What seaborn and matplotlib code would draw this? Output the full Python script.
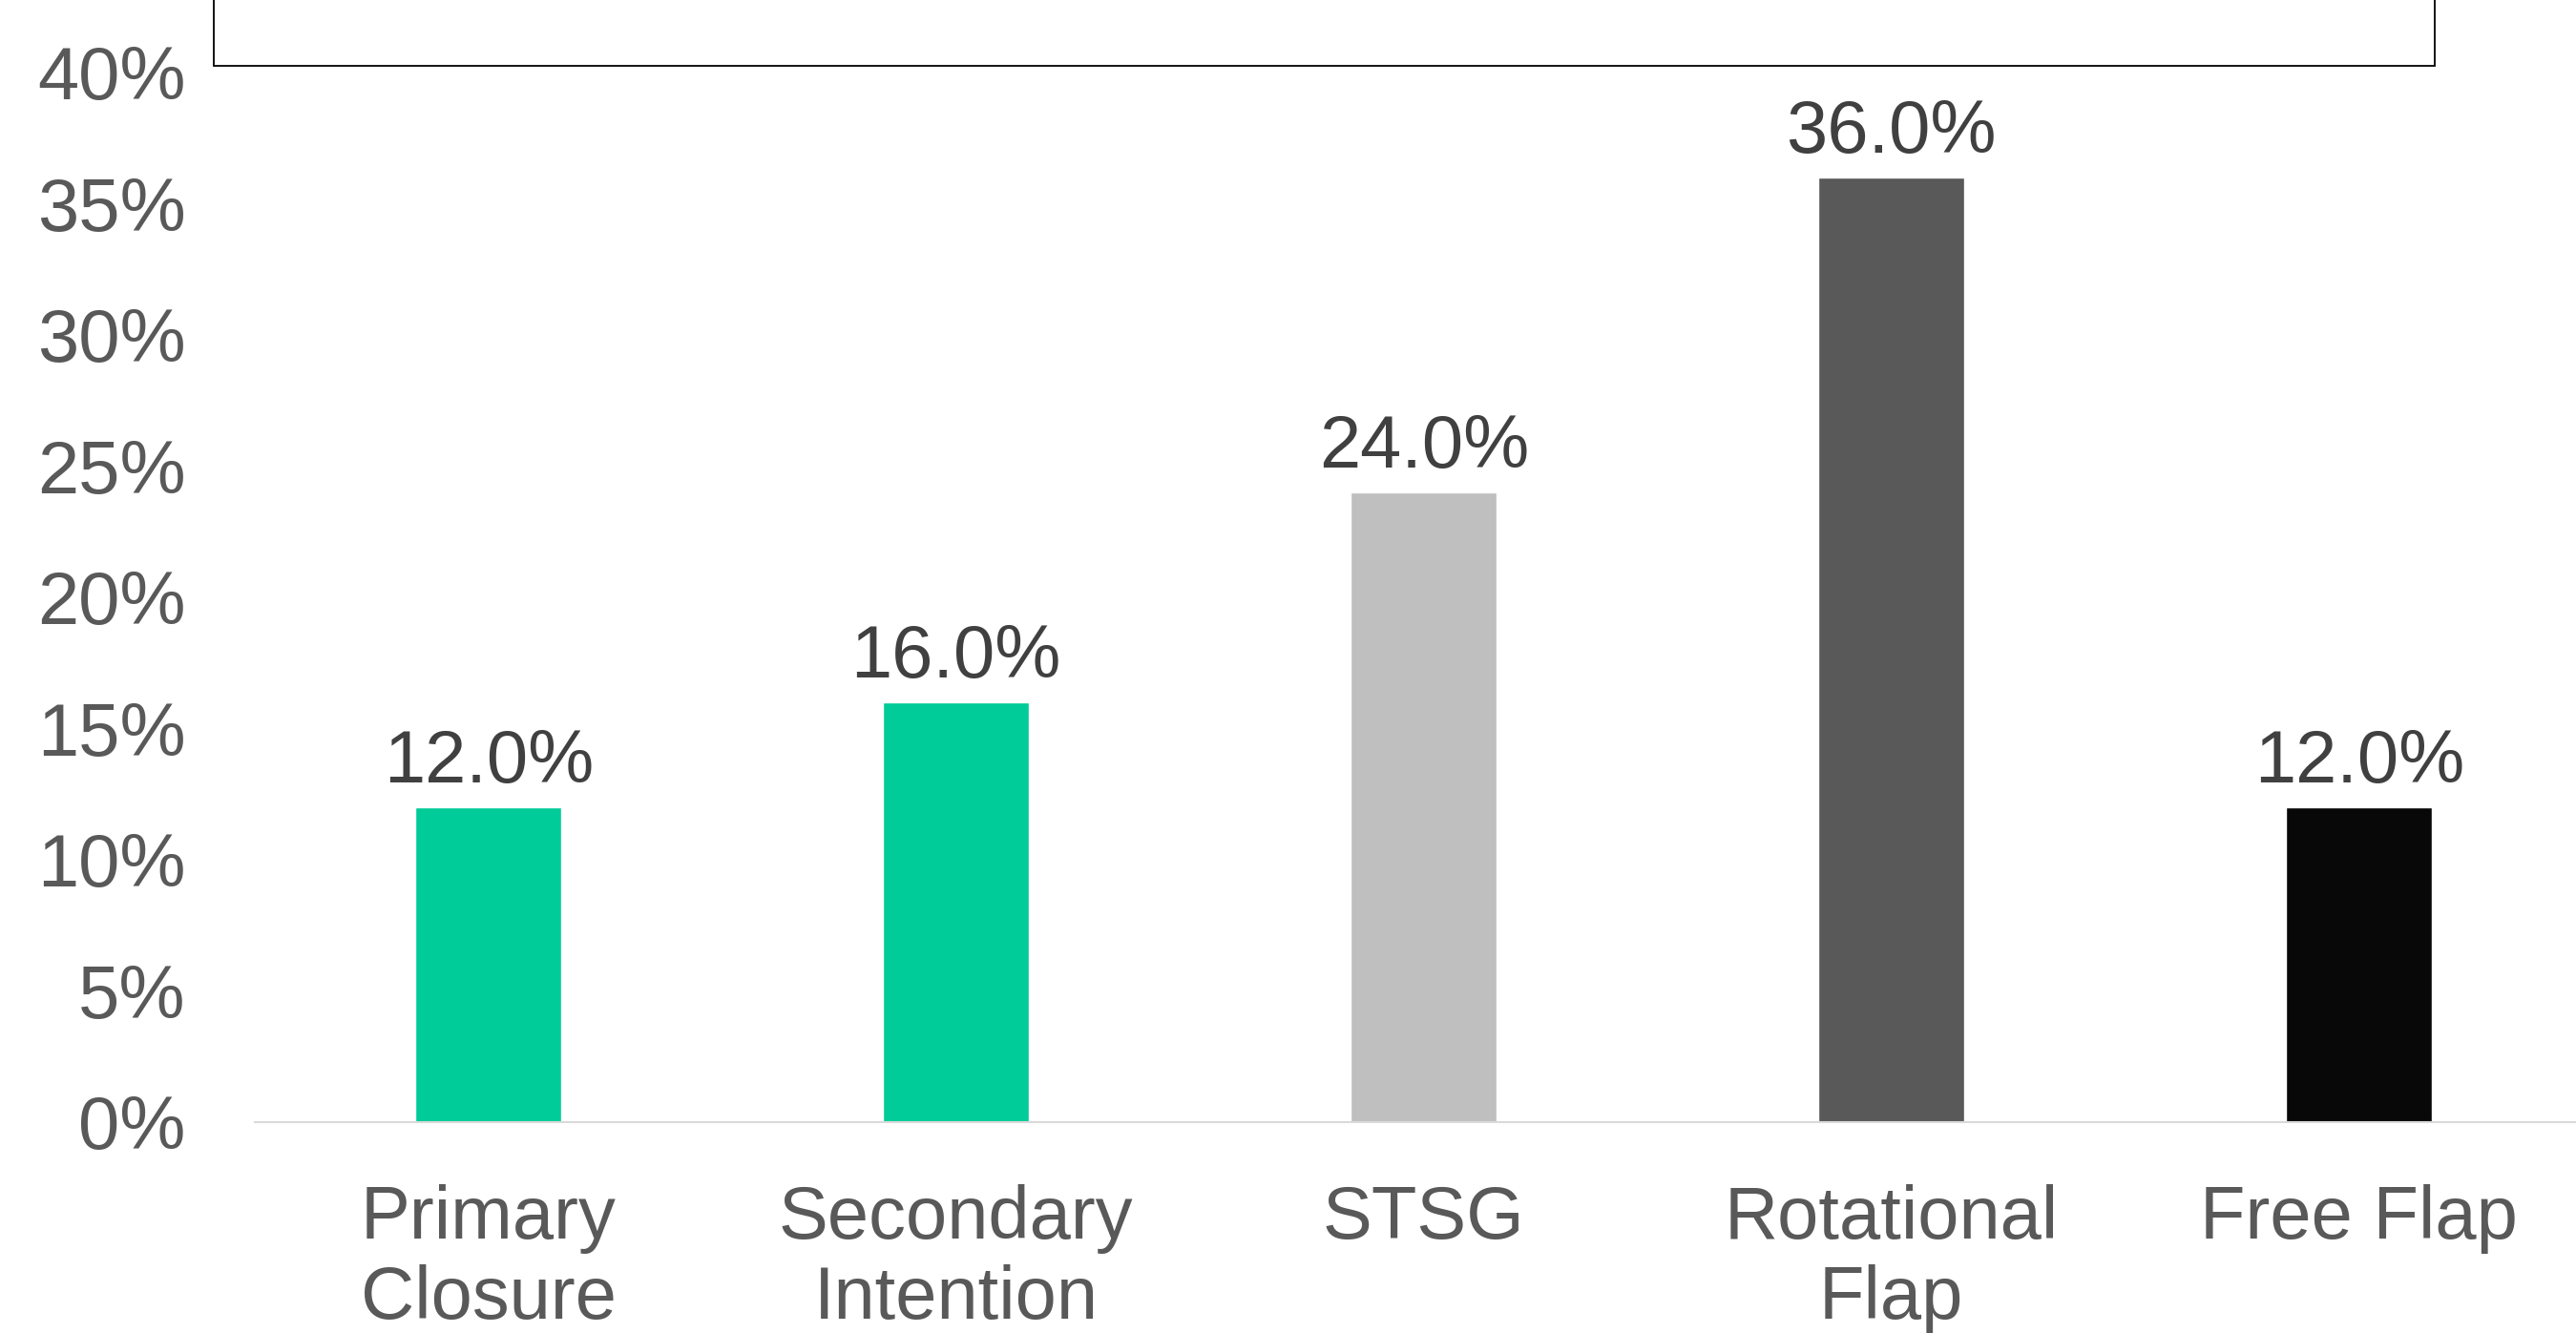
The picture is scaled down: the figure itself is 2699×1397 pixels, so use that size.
import matplotlib
matplotlib.use("Agg")
import matplotlib.pyplot as plt
from matplotlib.patches import Rectangle
from matplotlib.ticker import FuncFormatter
import seaborn as sns
import pandas as pd

# Reconstruction techniques and the share of cases for each
categories = ["Primary\nClosure", "Secondary\nIntention", "STSG", "Rotational\nFlap", "Free Flap"]
shares = [0.12, 0.16, 0.24, 0.36, 0.12]
bar_colors = ["#00CC99", "#00CC99", "#BFBFBF", "#595959", "#080808"]
y_ticks = [0.0, 0.05, 0.10, 0.15, 0.20, 0.25, 0.30, 0.35, 0.40]

sns.set_theme(style="white")
plt.rcParams["font.family"] = ["Liberation Sans", "DejaVu Sans"]

df = pd.DataFrame({"technique": categories, "share": shares})

W, H = 2699, 1397
fig = plt.figure(figsize=(W / 100, H / 100), dpi=100)
ax = fig.add_axes([266.8 / W, 1 - 1175.7 / H, 2450 / W, (1175.7 - 75.7) / H])

sns.barplot(data=df, x="technique", y="share", hue="technique",
            palette=bar_colors, width=0.313, legend=False, ax=ax,
            saturation=1)

ax.set_ylim(0, 0.40)
ax.set_xlim(-0.5, len(categories) - 0.5)
ax.set_yticks(y_ticks)
ax.yaxis.set_major_formatter(FuncFormatter(lambda v, _: f"{v:.0%}"))
ax.set_xlabel("")
ax.set_ylabel("")

for side in ("top", "right", "left"):
    ax.spines[side].set_visible(False)
ax.spines["bottom"].set_color("#D9D9D9")
ax.spines["bottom"].set_linewidth(1.5)

ax.tick_params(axis="y", length=0, pad=52, labelsize=56, labelcolor="#595959")
ax.tick_params(axis="x", length=0, pad=47, labelsize=56, labelcolor="#595959")
for lbl in ax.get_xticklabels():
    lbl.set_linespacing(1.2)
    lbl.set_horizontalalignment("center")

# value labels above each bar
for i, v in enumerate(shares):
    ax.annotate(f"{v * 100:.1f}%", xy=(i, v), xytext=(0, 18.5),
                textcoords="offset points", ha="center", va="baseline",
                fontsize=56, color="#404040")

# framed box across the top of the figure
box = Rectangle((223.8 / W, 1 - 68.9 / H), (2551 - 223.8) / W, 0.2,
                transform=fig.transFigure, facecolor="white",
                edgecolor="black", linewidth=1.3, clip_on=False)
fig.patches.append(box)

fig.savefig("out.png", dpi=100)
